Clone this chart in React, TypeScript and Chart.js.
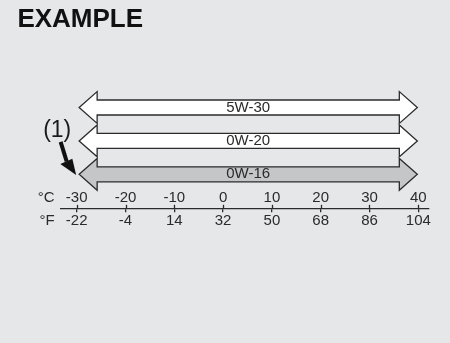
import React, { useEffect, useRef } from "react";
import { Chart, registerables } from "chart.js";

Chart.register(...registerables);

// ---- data ----
const grades = ["5W-30", "0W-20", "0W-16"];
const rangeLowC = [-29.5, -29.5, -29.5];
const rangeHighC = [39.8, 39.8, 39.8];
const celsiusTicks = [-30, -20, -10, 0, 10, 20, 30, 40];
const fahrenheitTicks = [-22, -4, 14, 32, 50, 68, 86, 104];
const arrowFills = ["#ffffff", "#ffffff", "#c5c6c8"];
const titleText = "EXAMPLE";
const calloutText = "(1)";

const FONT = "'Liberation Sans', Arial, Helvetica, sans-serif";
const X_MIN_C = -33.28;
const X_MAX_C = 42.05;
const cToF = (c: number) => (c * 9) / 5 + 32;

const INK = "#2b2b2b";
const C_TICKLEN = 12.4;
const C_PAD = 1.8;
const F_TICKLEN = 4;
const F_PAD = 0;

const arrowPlugin = {
  id: "oilArrows",
  afterDatasetsDraw(chart: any) {
    const ctx = chart.ctx;
    const meta = chart.getDatasetMeta(0);
    const yScale = chart.scales.y;
    const spacing = Math.abs(yScale.getPixelForValue(1) - yScale.getPixelForValue(0));
    const headHalf = spacing * 0.476;
    const bodyHalf = spacing * 0.225;
    const headLen = 18;
    ctx.save();
    meta.data.forEach((el: any, i: number) => {
      const { x, y, base } = el.getProps(["x", "y", "base"], true);
      const l = Math.min(x, base);
      const r = Math.max(x, base);
      ctx.beginPath();
      ctx.moveTo(l, y);
      ctx.lineTo(l + headLen, y - headHalf);
      ctx.lineTo(l + headLen, y - bodyHalf);
      ctx.lineTo(r - headLen, y - bodyHalf);
      ctx.lineTo(r - headLen, y - headHalf);
      ctx.lineTo(r, y);
      ctx.lineTo(r - headLen, y + headHalf);
      ctx.lineTo(r - headLen, y + bodyHalf);
      ctx.lineTo(l + headLen, y + bodyHalf);
      ctx.lineTo(l + headLen, y + headHalf);
      ctx.closePath();
      ctx.fillStyle = arrowFills[i];
      ctx.fill();
      ctx.lineWidth = 1.3;
      ctx.strokeStyle = INK;
      ctx.lineJoin = "miter";
      ctx.stroke();
      ctx.fillStyle = INK;
      ctx.font = `15px ${FONT}`;
      ctx.textAlign = "center";
      ctx.textBaseline = "middle";
      ctx.fillText(grades[i], (l + r) / 2, y);
    });

    // callout "(1)" with black arrow pointing to the 0W-16 arrow tip
    const last = meta.data[meta.data.length - 1];
    const p = last.getProps(["x", "y", "base"], true);
    const ax = Math.min(p.x, p.base);
    const ay = p.y;
    ctx.fillStyle = "#1a1a1a";
    ctx.font = `23px ${FONT}`;
    ctx.textAlign = "left";
    ctx.textBaseline = "alphabetic";
    ctx.fillText(calloutText, ax - 36, ay - 37);

    ctx.strokeStyle = "#111";
    ctx.fillStyle = "#111";
    ctx.lineWidth = 4;
    ctx.lineCap = "butt";
    ctx.beginPath();
    ctx.moveTo(ax - 18.5, ay - 32.5);
    ctx.lineTo(ax - 12.5, ay - 13);
    ctx.stroke();
    ctx.beginPath();
    ctx.moveTo(ax - 3, ay + 0.7);
    ctx.lineTo(ax - 18.8, ay - 10.3);
    ctx.lineTo(ax - 6.8, ay - 15.5);
    ctx.closePath();
    ctx.fill();
    ctx.restore();
  },
  afterDraw(chart: any) {
    const ctx = chart.ctx;
    const xc = chart.scales.xc;
    const xf = chart.scales.xf;
    ctx.save();
    // upper half of the crossing tick marks
    ctx.strokeStyle = INK;
    ctx.lineWidth = 1.3;
    xf.ticks.forEach((_t: any, i: number) => {
      const px = Math.round(xf.getPixelForTick(i)) + 0.5;
      ctx.beginPath();
      ctx.moveTo(px, xf.top - 3.5);
      ctx.lineTo(px, xf.top);
      ctx.stroke();
    });
    // unit labels
    ctx.fillStyle = INK;
    ctx.font = `15px ${FONT}`;
    ctx.textAlign = "right";
    ctx.textBaseline = "middle";
    ctx.fillText("°C", xc.left - 6, xc.top + C_TICKLEN + C_PAD + 9);
    ctx.fillText("°F", xf.left - 6, xf.top + F_TICKLEN + F_PAD + 9);
    ctx.restore();
  },
};

export default function App() {
  const canvasRef = useRef<HTMLCanvasElement | null>(null);

  useEffect(() => {
    if (!canvasRef.current) return;
    const chart = new Chart(canvasRef.current, {
      type: "bar",
      data: {
        labels: grades,
        datasets: [
          {
            data: grades.map((_, i) => [rangeLowC[i], rangeHighC[i]]) as any,
            backgroundColor: "rgba(0,0,0,0)",
            borderWidth: 0,
            xAxisID: "xc",
            yAxisID: "y",
          },
        ],
      },
      options: {
        indexAxis: "y",
        animation: false,
        responsive: false,
        devicePixelRatio: 1,
        layout: { padding: { left: 17.4, right: 21.7, top: 0, bottom: 112.7 } },
        plugins: {
          legend: { display: false },
          tooltip: { enabled: false },
          title: {
            display: true,
            text: titleText,
            align: "start",
            color: "#111111",
            font: { family: FONT, size: 26, weight: "bold" },
            padding: { top: 4, bottom: 72.3 },
          },
        },
        scales: {
          y: {
            type: "category",
            position: "left",
            offset: false,
            grid: { display: false },
            border: { display: false },
            ticks: { display: false },
            afterFit: (s: any) => {
              s.width = 43.3;
            },
          },
          xc: {
            type: "linear",
            axis: "x",
            position: "bottom",
            weight: 0,
            min: X_MIN_C,
            max: X_MAX_C,
            afterBuildTicks: (s: any) => {
              s.ticks = celsiusTicks.map((value) => ({ value }));
            },
            grid: {
              display: true,
              drawOnChartArea: false,
              drawTicks: true,
              tickLength: C_TICKLEN,
              color: "rgba(0,0,0,0)",
            },
            border: { display: false },
            ticks: {
              color: INK,
              font: { family: FONT, size: 15 },
              padding: C_PAD,
              maxRotation: 0,
              autoSkip: false,
            },
          },
          xf: {
            type: "linear",
            axis: "x",
            position: "bottom",
            weight: 1,
            min: cToF(X_MIN_C),
            max: cToF(X_MAX_C),
            afterBuildTicks: (s: any) => {
              s.ticks = fahrenheitTicks.map((value) => ({ value }));
            },
            grid: {
              display: true,
              drawOnChartArea: false,
              drawTicks: true,
              tickLength: F_TICKLEN,
              color: INK,
              lineWidth: 1.3,
            },
            border: { display: true, color: INK, width: 1.3 },
            ticks: {
              color: INK,
              font: { family: FONT, size: 15 },
              padding: F_PAD,
              maxRotation: 0,
              autoSkip: false,
            },
          },
        },
      } as any,
      plugins: [arrowPlugin],
    });
    return () => chart.destroy();
  }, []);

  return (
    <div
      style={{
        position: "absolute",
        left: 0,
        top: 0,
        width: 450,
        height: 343,
        background: "#e6e7e9",
      }}
    >
      <canvas ref={canvasRef} width={450} height={343} style={{ display: "block" }} />
    </div>
  );
}
